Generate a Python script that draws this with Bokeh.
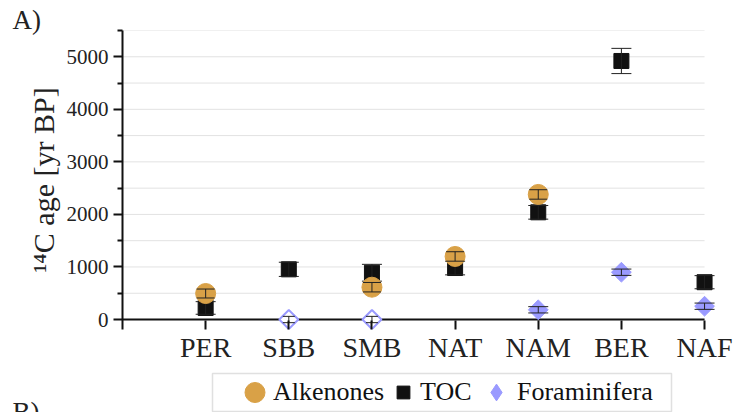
import numpy as np
from bokeh.plotting import figure
from bokeh.layouts import column
from bokeh.models import FixedTicker, Legend, LegendItem, Label, Title, BoxAnnotation
from bokeh.embed import file_html
from bokeh.resources import INLINE

# ---------------- data ----------------
sites = ["PER", "SBB", "SMB", "NAT", "NAM", "BER", "NAF"]

alk_sites = ["PER", "SMB", "NAT", "NAM"]
alk_age = [495, 615, 1200, 2380]
alk_err = [85, 90, 90, 90]

toc_sites = ["PER", "SBB", "SMB", "NAT", "NAM", "BER", "NAF"]
toc_age = [220, 955, 890, 980, 2040, 4920, 710]
toc_err = [120, 135, 160, 130, 130, 240, 125]

foram_sites = ["NAM", "BER", "NAF"]
foram_age = [185, 900, 253]
foram_err = [60, 60, 60]

foram_open_sites = ["SBB", "SMB"]
foram_open_age = [0, 0]
foram_open_err = [60, 60]

y_ticks = [0, 1000, 2000, 3000, 4000, 5000]
y_minor = [500, 1500, 2500, 3500, 4500, 5500]

series_names = ["Alkenones", "TOC", "Foraminifera"]

# ---------------- styles ----------------
ORANGE = "#D9A147"
LAV = "#9A9AFF"
BLACK = "#111111"
ERR = "#222222"
SERIF = "Liberation Serif"

pos = {s: i + 1 for i, s in enumerate(sites)}

p = figure(width=740, height=365,
           x_range=(0, len(sites) + 0.3), y_range=(-190, 5500),
           output_backend="svg", toolbar_location=None,
           min_border_left=122, min_border_top=30, min_border_right=11,
           min_border_bottom=36)
p.frame_align = False
p.outline_line_color = None
p.xgrid.grid_line_color = None
p.ygrid.grid_line_color = None

# horizontal grid lines (every 500, from the axis tick lists)
grid_vals = sorted([t for t in y_ticks if t > 0] + y_minor)
p.segment(x0=[0] * len(grid_vals), x1=[len(sites)] * len(grid_vals),
          y0=grid_vals, y1=grid_vals, line_color="#e2e2e2", line_width=1)
# x axis line at 0
p.segment(x0=[0], x1=[len(sites)], y0=[0], y1=[0], line_color=BLACK, line_width=2)

# y axis
ya = p.yaxis[0]
ya.ticker = FixedTicker(ticks=y_ticks, minor_ticks=y_minor)
ya.axis_line_width = 2
ya.axis_line_color = BLACK
ya.major_tick_in = 0
ya.major_tick_out = 9
ya.minor_tick_in = 0
ya.minor_tick_out = 5
ya.major_tick_line_width = 2
ya.minor_tick_line_width = 2
ya.major_tick_line_color = BLACK
ya.minor_tick_line_color = BLACK
ya.major_label_text_font = SERIF
ya.major_label_text_font_size = "21px"
ya.major_label_text_color = "#222222"
ya.major_label_standoff = 5
ya.axis_label = "\u00b9\u2074C age [yr BP]"
ya.axis_label_text_font = SERIF
ya.axis_label_text_font_size = "30px"
ya.axis_label_text_font_style = "normal"
ya.axis_label_text_color = "#222222"
ya.axis_label_standoff = 4

# x axis
xa = p.xaxis[0]
xa.ticker = FixedTicker(ticks=[pos[s] for s in sites])
xa.major_label_overrides = {pos[s]: s for s in sites}
xa.axis_line_color = None
xa.major_tick_in = 9
xa.major_tick_out = 0
xa.major_tick_line_width = 2
xa.major_tick_line_color = BLACK
xa.minor_tick_line_color = None
xa.major_label_text_font = SERIF
xa.major_label_text_font_size = "28px"
xa.major_label_text_color = "#222222"
xa.major_label_standoff = 2

p.add_layout(Title(text="A)", align="left", offset=-110, standoff=-8,
                   text_font=SERIF, text_font_size="27px",
                   text_font_style="normal", text_color="#222222"), "above")


def errbars(sx, ys, es, cap):
    xs = [pos[s] for s in sx]
    lo = [y - e for y, e in zip(ys, es)]
    hi = [y + e for y, e in zip(ys, es)]
    p.segment(x0=xs, x1=xs, y0=lo, y1=hi, line_color=ERR, line_width=1)
    p.scatter(x=xs + xs, y=lo + hi, marker="dash", size=cap,
              line_color=ERR, line_width=1)


# Foraminifera (filled)
p.scatter(x=[pos[s] for s in foram_sites], y=foram_age, marker="square",
          angle=np.pi / 4, size=14, fill_color=LAV, line_color=LAV)
errbars(foram_sites, foram_age, foram_err, 20)
# Foraminifera (open)
p.scatter(x=[pos[s] for s in foram_open_sites], y=foram_open_age, marker="square",
          angle=np.pi / 4, size=13.5, fill_color="white", line_color=LAV, line_width=2)
errbars(foram_open_sites, foram_open_age, foram_open_err, 12)
# TOC
p.scatter(x=[pos[s] for s in toc_sites], y=toc_age, marker="square",
          size=15, fill_color=BLACK, line_color=BLACK)
errbars(toc_sites, toc_age, toc_err, 20)
# Alkenones
p.scatter(x=[pos[s] for s in alk_sites], y=alk_age, marker="circle",
          size=20, fill_color=ORANGE, line_color=ORANGE)
errbars(alk_sites, alk_age, alk_err, 18)

# ---------------- legend strip (own canvas, pixel-like ranges) ----------------
LW, LH = 740, 47
leg = figure(width=LW, height=LH, x_range=(0, LW), y_range=(0, LH),
             output_backend="svg", toolbar_location=None,
             x_axis_type=None, y_axis_type=None, min_border=0)
leg.frame_align = False
leg.outline_line_color = None
leg.xgrid.grid_line_color = None
leg.ygrid.grid_line_color = None

# proxy renderers for the legend keys (placed outside the visible range)
px_alk = leg.ellipse(x=[-100], y=[-100], width=20, height=20,
                     width_units="screen", height_units="screen",
                     fill_color=ORANGE, line_color=ORANGE)
px_toc = leg.scatter(x=[-100], y=[-100], marker="square", size=13,
                     fill_color=BLACK, line_color=BLACK)
px_for = leg.scatter(x=[-100], y=[-100], marker="diamond", size=17,
                     fill_color=LAV, line_color=LAV)

leg.add_layout(BoxAnnotation(left=212, right=671, bottom=1, top=39,
                             fill_alpha=0, line_color="#999999", line_width=1.5))


def key(label, rend, x, gw, gh, standoff):
    lg = Legend(items=[LegendItem(label=label, renderers=[rend])],
                location=(x, 20 - gh / 2), margin=0, padding=0,
                glyph_width=gw, glyph_height=gh, label_height=gh,
                label_standoff=standoff, label_text_font=SERIF,
                label_text_font_size="26px", label_text_color="#111111",
                label_text_baseline="middle",
                border_line_color=None, background_fill_alpha=0)
    leg.add_layout(lg)


key(series_names[0], px_alk, 242, 25, 32, 6)
key(series_names[1], px_toc, 387, 32, 32, 1)
key(series_names[2], px_for, 475, 42, 42, -4)

leg.add_layout(Label(x=12, y=16, text="B)", text_font=SERIF, text_font_size="27px",
                     text_color="#222222", text_baseline="top"))

open("out.html", "w").write(file_html(column(p, leg, spacing=0), INLINE))
